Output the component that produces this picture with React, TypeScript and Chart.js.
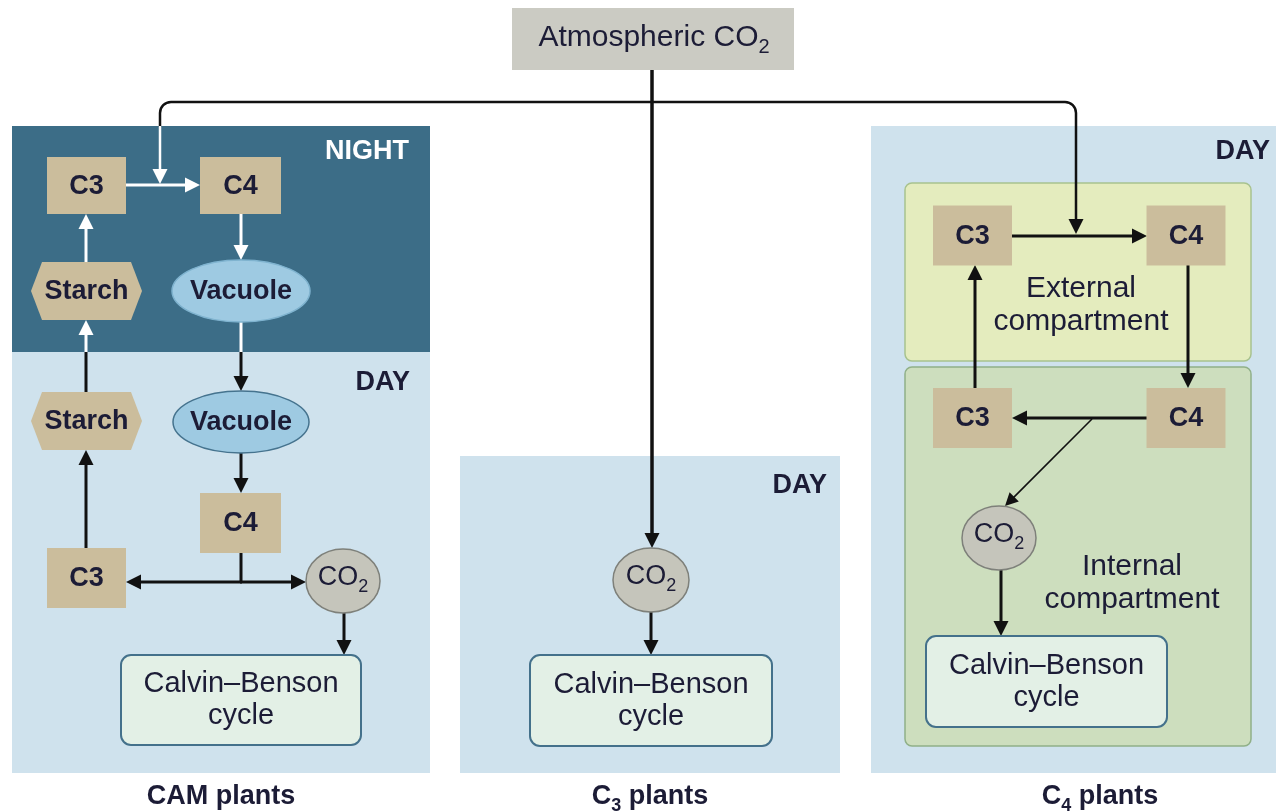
import { useEffect, useRef } from 'react';
import { Chart, registerables } from 'chart.js';

Chart.register(...registerables);

const VIEW_W = 1276;
const VIEW_H = 812;

// ---- diagram data (in a 1276 x 812 value space) ----
// background panels: [left, top, right, bottom, kind]
const panels: [number, number, number, number, string][] = [
  [12, 126, 430, 352, 'night'],
  [12, 352, 430, 773, 'day'],
  [460, 456, 840, 773, 'day'],
  [871, 126, 1284, 773, 'day'],
];

// C4 compartments: [left, top, right, bottom, kind]
const compartments: [number, number, number, number, string][] = [
  [905, 183, 1251, 361, 'external'],
  [905, 367, 1251, 746, 'internal'],
];

// source box
const sourceBox: [number, number, number, number] = [512, 8, 794, 70];

// metabolite boxes: [label, cx, cy, w, h]
const metaboliteBoxes: [string, number, number, number, number][] = [
  ['C3', 86.5, 185.5, 79, 57],
  ['C4', 240.5, 185.5, 81, 57],
  ['C4', 240.5, 523, 81, 60],
  ['C3', 86.5, 578, 79, 60],
  ['C3', 972.5, 235.5, 79, 60],
  ['C4', 1186, 235.5, 79, 60],
  ['C3', 972.5, 418, 79, 60],
  ['C4', 1186, 418, 79, 60],
];

// starch hexagons: [cx, cy, w, h]
const starchNodes: [number, number, number, number][] = [
  [86.5, 291, 111, 58],
  [86.5, 421, 111, 58],
];

// vacuole ellipses: [cx, cy, rx, ry, phase]
const vacuoleNodes: [number, number, number, number, string][] = [
  [241, 291, 69, 31, 'night'],
  [241, 422, 68, 31, 'day'],
];

// CO2 ellipses: [cx, cy, rx, ry]
const co2Nodes: [number, number, number, number][] = [
  [343, 581, 37, 32],
  [651, 580, 38, 32],
  [999, 538, 37, 32],
];

// Calvin–Benson boxes: [left, top, right, bottom]
const calvinBoxes: [number, number, number, number][] = [
  [121, 655, 361, 745],
  [530, 655, 772, 746],
  [926, 636, 1167, 727],
];

// connectors: points, colour key, line width, arrowhead at end
type Conn = { pts: [number, number][]; c: string; w: number; head: boolean };
const connectors: Conn[] = [
  { pts: [[652, 70], [652, 548]], c: 'k', w: 3.5, head: true },
  { pts: [[160, 127], [160, 102], [1076, 102], [1076, 234]], c: 'k', w: 2.5, head: true },
  { pts: [[160, 126], [160, 184]], c: 'w', w: 2.5, head: true },
  { pts: [[126, 185], [200, 185]], c: 'w', w: 3, head: true },
  { pts: [[241, 214], [241, 260]], c: 'w', w: 3, head: true },
  { pts: [[86, 262], [86, 214]], c: 'w', w: 3, head: true },
  { pts: [[86, 392], [86, 352]], c: 'k', w: 3, head: false },
  { pts: [[86, 352], [86, 320]], c: 'w', w: 3, head: true },
  { pts: [[86, 548], [86, 450]], c: 'k', w: 3, head: true },
  { pts: [[241, 322], [241, 352]], c: 'w', w: 3, head: false },
  { pts: [[241, 352], [241, 391]], c: 'k', w: 3, head: true },
  { pts: [[241, 453], [241, 493]], c: 'k', w: 3, head: true },
  { pts: [[241, 553], [241, 583]], c: 'k', w: 3, head: false },
  { pts: [[242, 582], [126, 582]], c: 'k', w: 3, head: true },
  { pts: [[240, 582], [306, 582]], c: 'k', w: 3, head: true },
  { pts: [[344, 613], [344, 655]], c: 'k', w: 3, head: true },
  { pts: [[651, 612], [651, 655]], c: 'k', w: 3, head: true },
  { pts: [[1012, 236], [1147, 236]], c: 'k', w: 3, head: true },
  { pts: [[1188, 265], [1188, 388]], c: 'k', w: 3, head: true },
  { pts: [[1147, 418], [1012, 418]], c: 'k', w: 3, head: true },
  { pts: [[975, 388], [975, 265]], c: 'k', w: 3, head: true },
  { pts: [[1092, 419], [1005, 506]], c: 'k', w: 1.6, head: true },
  { pts: [[1001, 570], [1001, 636]], c: 'k', w: 3, head: true },
];

// text: [segments ("_" prefix = subscript), x, y, style, align]
const texts: [string[], number, number, string, CanvasTextAlign][] = [
  [['Atmospheric CO', '_2'], 654, 38, 'title', 'center'],
  [['NIGHT'], 409, 152, 'phaseNight', 'right'],
  [['DAY'], 410, 383, 'phase', 'right'],
  [['DAY'], 827, 486, 'phase', 'right'],
  [['DAY'], 1270, 152, 'phase', 'right'],
  [['External'], 1081, 289, 'body', 'center'],
  [['compartment'], 1081, 322, 'body', 'center'],
  [['Internal'], 1132, 567, 'body', 'center'],
  [['compartment'], 1132, 600, 'body', 'center'],
  [['CAM plants'], 221, 797, 'caption', 'center'],
  [['C', '_3', ' plants'], 650, 797, 'caption', 'center'],
  [['C', '_4', ' plants'], 1100, 797, 'caption', 'center'],
];

const calvinLines = ['Calvin–Benson', 'cycle'];

// ---- styles ----
const COLORS: Record<string, string> = {
  night: '#3c6d87',
  day: '#cfe2ed',
  external: '#e4ecbe',
  externalEdge: '#a8c28e',
  internal: '#cddebe',
  internalEdge: '#90b088',
  source: '#cbcbc3',
  tan: '#cbbd9c',
  vacuole: '#9ecae2',
  vacuoleNightEdge: '#7fb3cf',
  vacuoleEdge: '#45738e',
  co2: '#c5c5bb',
  co2Edge: '#7e807a',
  calvin: '#e3f0e6',
  calvinEdge: '#44718b',
  text: '#1c1c36',
  k: '#111111',
  w: '#ffffff',
};

const SANS = '"Liberation Sans", Arial, Helvetica, sans-serif';
const FONTS: Record<string, { size: number; bold: boolean; color: string }> = {
  title: { size: 30, bold: false, color: COLORS.text },
  phase: { size: 27, bold: true, color: COLORS.text },
  phaseNight: { size: 27, bold: true, color: '#ffffff' },
  body: { size: 30, bold: false, color: COLORS.text },
  caption: { size: 27, bold: true, color: COLORS.text },
  node: { size: 27, bold: true, color: COLORS.text },
  co2: { size: 27, bold: false, color: COLORS.text },
  calvin: { size: 29, bold: false, color: COLORS.text },
};

function roundRectPath(ctx: CanvasRenderingContext2D, x: number, y: number, w: number, h: number, r: number) {
  ctx.beginPath();
  ctx.moveTo(x + r, y);
  ctx.lineTo(x + w - r, y);
  ctx.arcTo(x + w, y, x + w, y + r, r);
  ctx.lineTo(x + w, y + h - r);
  ctx.arcTo(x + w, y + h, x + w - r, y + h, r);
  ctx.lineTo(x + r, y + h);
  ctx.arcTo(x, y + h, x, y + h - r, r);
  ctx.lineTo(x, y + r);
  ctx.arcTo(x, y, x + r, y, r);
  ctx.closePath();
}

function drawRich(ctx: CanvasRenderingContext2D, segs: string[], x: number, y: number, styleKey: string, align: CanvasTextAlign) {
  const st = FONTS[styleKey];
  const main = `${st.bold ? 'bold ' : ''}${st.size}px ${SANS}`;
  const subSize = Math.round(st.size * 0.68);
  const sub = `${st.bold ? 'bold ' : ''}${subSize}px ${SANS}`;
  ctx.textBaseline = 'middle';
  ctx.textAlign = 'left';
  ctx.fillStyle = st.color;
  const parts = segs.map((s) => {
    const isSub = s.startsWith('_');
    const t = isSub ? s.slice(1) : s;
    ctx.font = isSub ? sub : main;
    return { t, isSub, w: ctx.measureText(t).width };
  });
  const total = parts.reduce((a, p) => a + p.w, 0);
  let cx = align === 'center' ? x - total / 2 : align === 'right' ? x - total : x;
  for (const p of parts) {
    ctx.font = p.isSub ? sub : main;
    ctx.fillText(p.t, cx, p.isSub ? y + st.size * 0.33 : y);
    cx += p.w;
  }
}

const diagramPlugin = {
  id: 'diagram',
  beforeDatasetsDraw(chart: any) {
    const ctx: CanvasRenderingContext2D = chart.ctx;
    const xs = chart.scales.x;
    const ys = chart.scales.y;
    const X = (v: number) => xs.getPixelForValue(v);
    const Y = (v: number) => ys.getPixelForValue(v);
    ctx.save();

    // panels
    for (const [l, t, r, b, kind] of panels) {
      ctx.fillStyle = COLORS[kind];
      ctx.fillRect(X(l), Y(t), X(r) - X(l), Y(b) - Y(t));
    }
    // compartments
    for (const [l, t, r, b, kind] of compartments) {
      roundRectPath(ctx, X(l), Y(t), X(r) - X(l), Y(b) - Y(t), 7);
      ctx.fillStyle = COLORS[kind];
      ctx.fill();
      ctx.lineWidth = 1.5;
      ctx.strokeStyle = COLORS[kind + 'Edge'];
      ctx.stroke();
    }
    // source box
    {
      const [l, t, r, b] = sourceBox;
      ctx.fillStyle = COLORS.source;
      ctx.fillRect(X(l), Y(t), X(r) - X(l), Y(b) - Y(t));
    }

    // connectors
    for (const cn of connectors) {
      const pts = cn.pts.map(([a, b]) => [X(a), Y(b)]);
      const n = pts.length;
      const L = cn.w < 2 ? 13 : 15;
      const HW = cn.w < 2 ? 6.5 : 7.5;
      const [ex, ey] = pts[n - 1];
      const [px, py] = pts[n - 2];
      const len = Math.hypot(ex - px, ey - py);
      const ux = (ex - px) / len;
      const uy = (ey - py) / len;
      const endX = cn.head ? ex - ux * L * 0.7 : ex;
      const endY = cn.head ? ey - uy * L * 0.7 : ey;
      ctx.strokeStyle = COLORS[cn.c];
      ctx.fillStyle = COLORS[cn.c];
      ctx.lineWidth = cn.w;
      ctx.lineCap = 'butt';
      ctx.lineJoin = 'round';
      ctx.beginPath();
      ctx.moveTo(pts[0][0], pts[0][1]);
      for (let i = 1; i < n - 1; i++) {
        ctx.arcTo(pts[i][0], pts[i][1], pts[i + 1][0], pts[i + 1][1], 11);
      }
      ctx.lineTo(endX, endY);
      ctx.stroke();
      if (cn.head) {
        ctx.beginPath();
        ctx.moveTo(ex, ey);
        ctx.lineTo(ex - ux * L - uy * HW, ey - uy * L + ux * HW);
        ctx.lineTo(ex - ux * L + uy * HW, ey - uy * L - ux * HW);
        ctx.closePath();
        ctx.fill();
      }
    }

    // metabolite boxes
    for (const [label, cx, cy, w, h] of metaboliteBoxes) {
      ctx.fillStyle = COLORS.tan;
      ctx.fillRect(X(cx - w / 2), Y(cy - h / 2), X(cx + w / 2) - X(cx - w / 2), Y(cy + h / 2) - Y(cy - h / 2));
      drawRich(ctx, [label], X(cx), Y(cy + 1), 'node', 'center');
    }
    // starch hexagons
    for (const [cx, cy, w, h] of starchNodes) {
      const l = X(cx - w / 2), r = X(cx + w / 2), t = Y(cy - h / 2), b = Y(cy + h / 2);
      const inset = 11;
      ctx.beginPath();
      ctx.moveTo(l, (t + b) / 2);
      ctx.lineTo(l + inset, t);
      ctx.lineTo(r - inset, t);
      ctx.lineTo(r, (t + b) / 2);
      ctx.lineTo(r - inset, b);
      ctx.lineTo(l + inset, b);
      ctx.closePath();
      ctx.fillStyle = COLORS.tan;
      ctx.fill();
      drawRich(ctx, ['Starch'], X(cx), Y(cy + 1), 'node', 'center');
    }
    // vacuoles
    for (const [cx, cy, rx, ry, phase] of vacuoleNodes) {
      ctx.beginPath();
      ctx.ellipse(X(cx), Y(cy), X(cx + rx) - X(cx), Y(cy + ry) - Y(cy), 0, 0, Math.PI * 2);
      ctx.fillStyle = COLORS.vacuole;
      ctx.fill();
      ctx.lineWidth = 1.5;
      ctx.strokeStyle = phase === 'day' ? COLORS.vacuoleEdge : COLORS.vacuoleNightEdge;
      ctx.stroke();
      drawRich(ctx, ['Vacuole'], X(cx), Y(cy + 1), 'node', 'center');
    }
    // CO2 nodes
    for (const [cx, cy, rx, ry] of co2Nodes) {
      ctx.beginPath();
      ctx.ellipse(X(cx), Y(cy), X(cx + rx) - X(cx), Y(cy + ry) - Y(cy), 0, 0, Math.PI * 2);
      ctx.fillStyle = COLORS.co2;
      ctx.fill();
      ctx.lineWidth = 1.5;
      ctx.strokeStyle = COLORS.co2Edge;
      ctx.stroke();
      drawRich(ctx, ['CO', '_2'], X(cx), Y(cy - 3), 'co2', 'center');
    }
    // Calvin–Benson boxes
    for (const [l, t, r, b] of calvinBoxes) {
      roundRectPath(ctx, X(l), Y(t), X(r) - X(l), Y(b) - Y(t), 10);
      ctx.fillStyle = COLORS.calvin;
      ctx.fill();
      ctx.lineWidth = 2;
      ctx.strokeStyle = COLORS.calvinEdge;
      ctx.stroke();
      const mx = (X(l) + X(r)) / 2;
      const my = (Y(t) + Y(b)) / 2;
      drawRich(ctx, [calvinLines[0]], mx, my - 16, 'calvin', 'center');
      drawRich(ctx, [calvinLines[1]], mx, my + 16, 'calvin', 'center');
    }

    // free texts
    for (const [segs, x, y, style, align] of texts) {
      drawRich(ctx, segs, X(x), Y(y), style, align);
    }
    ctx.restore();
  },
};

export default function App() {
  const ref = useRef<HTMLCanvasElement | null>(null);
  useEffect(() => {
    if (!ref.current) return;
    const nodePoints = [
      ...metaboliteBoxes.map(([, x, y]) => ({ x, y })),
      ...starchNodes.map(([x, y]) => ({ x, y })),
      ...vacuoleNodes.map(([x, y]) => ({ x, y })),
      ...co2Nodes.map(([x, y]) => ({ x, y })),
    ];
    const chart = new Chart(ref.current, {
      type: 'scatter',
      data: {
        datasets: [
          { data: nodePoints, pointRadius: 0, pointHoverRadius: 0, showLine: false },
        ],
      },
      options: {
        animation: false,
        responsive: false,
        maintainAspectRatio: false,
        devicePixelRatio: 1,
        events: [],
        layout: { padding: 0 },
        plugins: { legend: { display: false }, tooltip: { enabled: false }, title: { display: false } },
        scales: {
          x: { type: 'linear', min: 0, max: VIEW_W, display: false },
          y: { type: 'linear', min: 0, max: VIEW_H, reverse: true, display: false },
        },
      },
      plugins: [diagramPlugin],
    });
    return () => chart.destroy();
  }, []);
  return (
    <div style={{ position: 'fixed', left: 0, top: 0, width: VIEW_W, height: VIEW_H, background: '#ffffff' }}>
      <canvas ref={ref} width={VIEW_W} height={VIEW_H} style={{ display: 'block', width: VIEW_W, height: VIEW_H }} />
    </div>
  );
}
